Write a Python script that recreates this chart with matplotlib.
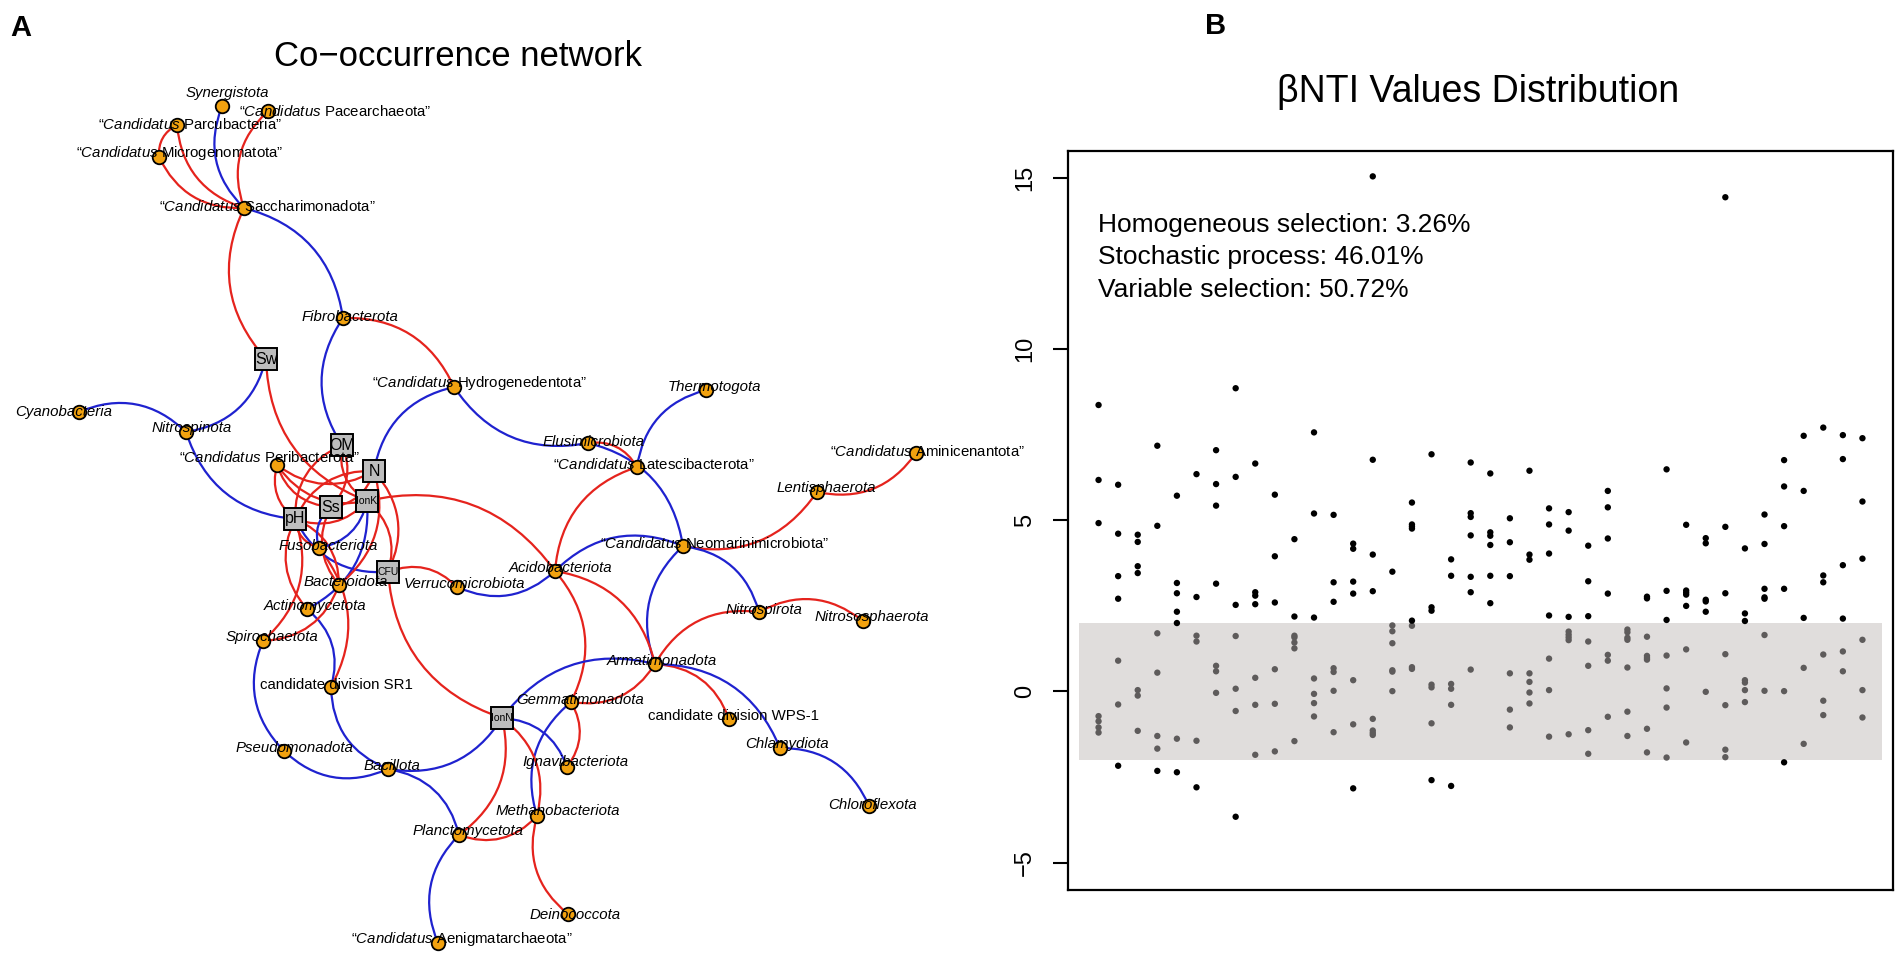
import numpy as np
import matplotlib
matplotlib.use("Agg")
import matplotlib.pyplot as plt
from matplotlib.path import Path
from matplotlib.patches import PathPatch, Rectangle

plt.rcParams['font.family'] = ['Liberation Sans', 'DejaVu Sans']
plt.rcParams['mathtext.fontset'] = 'custom'
plt.rcParams['mathtext.rm'] = 'Liberation Sans'
plt.rcParams['mathtext.it'] = 'Liberation Sans:italic'

# ---- network: taxa (layout positions, in pixels) ----
taxa = ["Synergistota", "Pacearchaeota", "Parcubacteria", "Microgenomatota",
        "Saccharimonadota", "Fibrobacterota", "Hydrogenedentota", "Cyanobacteria",
        "Nitrospinota", "Peribacterota", "Elusimicrobiota", "Thermotogota",
        "Latescibacterota", "Aminicenantota", "Lentisphaerota", "Fusobacteriota",
        "Neomarinimicrobiota", "Acidobacteriota", "Bacteroidota", "Verrucomicrobiota",
        "Actinomycetota", "Nitrospirota", "Nitrososphaerota", "Spirochaetota",
        "Armatimonadota", "SR1", "Gemmatimonadota", "WPS1", "Chlamydiota",
        "Pseudomonadota", "Bacillota", "Ignavibacteriota", "Chloroflexota",
        "Methanobacteriota", "Planctomycetota", "Deinococcota", "Aenigmatarchaeota"]
taxon_label = ["Synergistota", "Pacearchaeota", "Parcubacteria", "Microgenomatota",
               "Saccharimonadota", "Fibrobacterota", "Hydrogenedentota", "Cyanobacteria",
               "Nitrospinota", "Peribacterota", "Elusimicrobiota", "Thermotogota",
               "Latescibacterota", "Aminicenantota", "Lentisphaerota", "Fusobacteriota",
               "Neomarinimicrobiota", "Acidobacteriota", "Bacteroidota", "Verrucomicrobiota",
               "Actinomycetota", "Nitrospirota", "Nitrososphaerota", "Spirochaetota",
               "Armatimonadota", "candidate division SR1", "Gemmatimonadota",
               "candidate division WPS-1", "Chlamydiota", "Pseudomonadota", "Bacillota",
               "Ignavibacteriota", "Chloroflexota", "Methanobacteriota", "Planctomycetota",
               "Deinococcota", "Aenigmatarchaeota"]
# i = italic, c = "Candidatus" form, n = plain
taxon_style = ["i", "c", "c", "c", "c", "i", "c", "i", "i", "c", "i", "i", "c", "c",
               "i", "i", "c", "i", "i", "i", "i", "i", "i", "i", "i", "n", "i", "n",
               "i", "i", "i", "i", "i", "i", "i", "i", "c"]
taxon_x = [222, 268, 177, 159, 244, 343, 454, 79, 186, 277, 588, 706, 637, 916, 817,
           319, 683, 555, 339, 457, 307, 759, 863, 263, 655, 331, 571, 729, 780, 284,
           388, 567, 869, 537, 459, 568, 438]
taxon_y = [106, 111, 125, 157, 208, 318, 387, 412, 432, 465, 443, 390, 467, 453, 492,
           548, 546, 571, 585, 587, 609, 612, 621, 641, 664, 687, 702, 719, 748, 751,
           769, 767, 806, 816, 835, 914, 943]
label_x = [227, 335, 190, 180, 267, 350, 479, 64, 192, 269, 594, 714, 654, 927, 826,
           328, 715, 561, 346, 464, 315, 764, 872, 272, 662, 336, 580, 734, 787, 294,
           392, 575, 872, 558, 468, 575, 462]
label_y = [93, 111, 124, 153, 206, 317, 383, 412, 428, 457, 442, 387, 464, 451, 488,
           546, 544, 568, 582, 584, 606, 610, 617, 637, 661, 685, 700, 716, 744, 748,
           766, 762, 805, 811, 831, 915, 939]

# environmental factors
env = ["Sw", "OM", "N", "IonK", "Ss", "pH", "CFU", "IonN"]
env_x = [266, 342, 374, 367, 331, 295, 388, 502]
env_y = [359, 445, 471, 501, 507, 519, 572, 718]

# edges: (from, to, sign of correlation, bend side)
edges = [
    ("Parcubacteria", "Saccharimonadota", "pos", 1),
    ("Microgenomatota", "Saccharimonadota", "pos", 1),
    ("Parcubacteria", "Microgenomatota", "pos", 1),
    ("Synergistota", "Saccharimonadota", "neg", 1),
    ("Pacearchaeota", "Saccharimonadota", "pos", 1),
    ("Saccharimonadota", "Sw", "pos", 1),
    ("Saccharimonadota", "Fibrobacterota", "neg", -1),
    ("Fibrobacterota", "Hydrogenedentota", "pos", -1),
    ("Fibrobacterota", "OM", "neg", 1),
    ("Sw", "Nitrospinota", "neg", -1),
    ("Cyanobacteria", "Nitrospinota", "neg", -1),
    ("Nitrospinota", "pH", "neg", 1),
    ("Sw", "IonK", "pos", 1),
    ("Hydrogenedentota", "N", "neg", 1),
    ("Hydrogenedentota", "Elusimicrobiota", "neg", 1),
    ("Thermotogota", "Latescibacterota", "neg", 1),
    ("Elusimicrobiota", "Neomarinimicrobiota", "neg", -1),
    ("Elusimicrobiota", "Latescibacterota", "pos", -1),
    ("Latescibacterota", "Acidobacteriota", "pos", 1),
    ("Acidobacteriota", "Neomarinimicrobiota", "neg", -1),
    ("Verrucomicrobiota", "Acidobacteriota", "neg", 1),
    ("Neomarinimicrobiota", "Lentisphaerota", "pos", 1),
    ("Lentisphaerota", "Aminicenantota", "pos", 1),
    ("Neomarinimicrobiota", "Nitrospirota", "neg", -1),
    ("Neomarinimicrobiota", "Armatimonadota", "neg", 1),
    ("Nitrospirota", "Nitrososphaerota", "pos", -1),
    ("Nitrospirota", "Armatimonadota", "pos", 1),
    ("Acidobacteriota", "Armatimonadota", "pos", -1),
    ("Acidobacteriota", "Gemmatimonadota", "pos", -1),
    ("IonK", "Acidobacteriota", "pos", -1),
    ("CFU", "Verrucomicrobiota", "pos", -1),
    ("CFU", "IonN", "pos", 1),
    ("Armatimonadota", "IonN", "neg", 1),
    ("Armatimonadota", "Gemmatimonadota", "pos", -1),
    ("Armatimonadota", "WPS1", "pos", -1),
    ("Armatimonadota", "Chlamydiota", "neg", -1),
    ("Chlamydiota", "Chloroflexota", "neg", -1),
    ("Gemmatimonadota", "Ignavibacteriota", "pos", -1),
    ("Gemmatimonadota", "Methanobacteriota", "neg", 1),
    ("IonN", "Ignavibacteriota", "neg", -1),
    ("IonN", "Methanobacteriota", "pos", -1),
    ("IonN", "Planctomycetota", "pos", -1),
    ("IonN", "Bacillota", "neg", -1),
    ("Methanobacteriota", "Planctomycetota", "pos", -1),
    ("Methanobacteriota", "Deinococcota", "pos", 1),
    ("Planctomycetota", "Aenigmatarchaeota", "neg", 1),
    ("Bacillota", "Planctomycetota", "neg", -1),
    ("Bacillota", "Pseudomonadota", "neg", -1),
    ("Bacillota", "SR1", "neg", -1),
    ("Pseudomonadota", "Spirochaetota", "neg", -1),
    ("SR1", "Actinomycetota", "neg", 1),
    ("SR1", "Fusobacteriota", "pos", 1),
    ("Spirochaetota", "Bacteroidota", "pos", 1),
    ("pH", "Spirochaetota", "pos", -1),
    ("Actinomycetota", "IonK", "neg", 1),
    ("pH", "CFU", "neg", 1),
    ("Peribacterota", "Ss", "pos", 1),
    ("Peribacterota", "IonK", "pos", 1),
    ("Peribacterota", "N", "pos", 1),
    ("OM", "pH", "pos", 1),
    ("OM", "Ss", "pos", -1),
    ("OM", "IonK", "pos", 1),
    ("N", "pH", "pos", 1),
    ("N", "Ss", "pos", -1),
    ("N", "CFU", "pos", -1),
    ("IonK", "pH", "pos", -1),
    ("pH", "Fusobacteriota", "pos", 1),
    ("pH", "Bacteroidota", "pos", -1),
    ("Ss", "Bacteroidota", "pos", 1),
    ("N", "Bacteroidota", "pos", -1),
    ("IonK", "CFU", "pos", -1),
    ("pH", "Actinomycetota", "pos", 1),
    ("Ss", "Fusobacteriota", "neg", 1),
    ("IonK", "Fusobacteriota", "neg", -1),
    ("Peribacterota", "pH", "pos", 1),
]

# ---- beta NTI values, one list per sample (x = 1..40) ----
bnti = [
    [8.37, 6.18, 4.92, -0.72, -0.87, -1.05, -1.20],
    [6.04, 4.61, 3.37, 2.71, 0.90, -0.38, -2.17],
    [4.58, 4.37, 3.66, 3.46, 0.04, -0.12, -1.15],
    [7.18, 4.84, 1.70, 0.55, -1.30, -1.67, -2.32],
    [5.72, 3.17, 2.87, 2.33, 2.00, -1.38, -2.36],
    [6.35, 2.76, 1.63, 1.46, -1.44, -2.80],
    [7.05, 6.06, 5.43, 3.15, 0.75, 0.59, -0.04],
    [8.86, 6.27, 2.53, 1.62, 0.08, -0.57, -3.66],
    [6.66, 2.90, 2.80, 2.55, 0.40, -0.39, -1.85],
    [5.75, 3.95, 2.60, 0.65, -0.36, -1.75],
    [4.45, 2.19, 1.63, 1.58, 1.43, 1.26, -1.45],
    [7.57, 5.20, 2.16, 0.38, -0.07, -0.34, -0.73],
    [5.16, 3.19, 2.62, 0.68, 0.57, 0.02, -1.19],
    [4.32, 4.17, 3.21, 2.86, 0.33, -0.96, -2.83],
    [15.05, 6.77, 4.00, 2.93, -0.80, -1.14, -1.21, -1.27],
    [3.50, 1.93, 1.76, 1.41, 0.62, 0.58, 0.01],
    [5.52, 4.88, 4.82, 4.76, 2.07, 1.92, 0.71, 0.66],
    [6.93, 2.46, 2.36, 0.20, 0.12, -0.93, -2.59],
    [3.86, 3.38, 0.22, 0.08, -0.39, -2.76],
    [6.69, 5.21, 5.10, 4.56, 3.35, 2.90, 0.64],
    [6.37, 4.65, 4.55, 4.28, 3.38, 2.58],
    [5.06, 4.36, 3.37, 0.53, -0.53, -1.05],
    [6.45, 4.00, 3.85, 0.53, 0.28, -0.03, -0.35],
    [5.35, 4.88, 4.03, 2.22, 0.96, 0.04, -1.32],
    [5.24, 4.70, 2.18, 1.75, 1.66, 1.58, 1.50, -1.25],
    [4.26, 3.22, 2.20, 1.46, 0.75, -1.13, -1.82],
    [5.86, 5.38, 4.47, 2.86, 1.07, 0.90, -0.74],
    [1.81, 1.73, 1.57, 1.51, 0.70, -0.59, -1.30],
    [2.77, 2.72, 1.60, 1.04, 0.98, 0.93, -1.09, -1.78],
    [6.49, 2.94, 2.09, 1.05, 0.09, -0.47, -1.93],
    [4.87, 2.95, 2.89, 2.83, 2.50, 1.23, -1.49],
    [4.48, 4.33, 2.68, 2.63, 2.33, -0.01],
    [14.44, 4.81, 2.87, 1.09, -0.40, -1.70, -1.92],
    [4.18, 2.28, 2.06, 0.33, 0.26, 0.04, -0.31],
    [5.17, 4.31, 3.00, 2.75, 2.71, 1.65, 0.02],
    [6.76, 5.99, 4.83, 3.00, 0.01, -2.07],
    [7.47, 5.86, 2.15, 0.69, -1.53],
    [7.71, 3.39, 3.19, 1.08, -0.27, -0.69],
    [7.49, 6.79, 3.69, 2.13, 1.17, 0.59],
    [7.40, 5.55, 3.88, 1.51, 0.04, -0.76],
]
summary_lines = ["Homogeneous selection: 3.26%",
                 "Stochastic process: 46.01%",
                 "Variable selection: 50.72%"]

W, H = 1901, 956
fig = plt.figure(figsize=(W / 100, H / 100), dpi=100)

# ---------------- panel A ----------------
ax = fig.add_axes([0, 0, 1, 1])
ax.set_xlim(0, W)
ax.set_ylim(H, 0)
ax.axis('off')

pos = {}
for k, x, y in zip(taxa, taxon_x, taxon_y):
    pos[k] = (x, y)
for k, x, y in zip(env, env_x, env_y):
    pos[k] = (x, y)

edge_col = {"pos": "#e5231d", "neg": "#1f22cf"}
for a, b, sgn, side in edges:
    x0, y0 = pos[a]
    x1, y1 = pos[b]
    dx, dy = x1 - x0, y1 - y0
    L = np.hypot(dx, dy)
    px, py = -dy / L, dx / L
    cx = (x0 + x1) / 2 + side * 0.33 * L * px
    cy = (y0 + y1) / 2 + side * 0.33 * L * py
    path = Path([(x0, y0), (cx, cy), (x1, y1)],
                [Path.MOVETO, Path.CURVE3, Path.CURVE3])
    ax.add_patch(PathPatch(path, fc='none', ec=edge_col[sgn], lw=1.6, zorder=1))

ax.scatter(taxon_x, taxon_y, s=95, c='#f2a20f', edgecolors='black',
           linewidths=1.3, zorder=3)

box = 22
for k, x, y in zip(env, env_x, env_y):
    ax.add_patch(Rectangle((x - box / 2, y - box / 2), box, box, fc='#bdbdbd',
                           ec='black', lw=1.4, zorder=3))
    fs = 7.5 if len(k) > 2 else 11.5
    ax.text(x, y, k, ha='center', va='center', fontsize=fs, zorder=4)

for lab, sty, x, y in zip(taxon_label, taxon_style, label_x, label_y):
    if sty == "c":
        txt = "\u201c$\\mathit{Candidatus}$ " + lab + "\u201d"
        ax.text(x, y, txt, ha='center', va='center', fontsize=10.8, zorder=5)
    elif sty == "i":
        ax.text(x, y, lab, ha='center', va='center', fontsize=10.8,
                style='italic', zorder=5)
    else:
        ax.text(x, y, lab, ha='center', va='center', fontsize=10.8, zorder=5)

ax.text(458, 56, "Co\u2212occurrence network", ha='center', va='center', fontsize=25)
ax.text(21, 28, "A", ha='center', va='center', fontsize=21, fontweight='bold')
ax.text(1216, 26, "B", ha='center', va='center', fontsize=21, fontweight='bold')
ax.text(1478, 92, "\u03b2NTI Values Distribution", ha='center', va='center', fontsize=27)

# ---------------- panel B ----------------
bx = fig.add_axes([1068 / W, (H - 890) / H, 825 / W, 739.3 / H])
bx.add_patch(Rectangle((0, -2), 41, 4, fc='#e0dddc', ec='none', zorder=0))
xs, ys = [], []
for i, vals in enumerate(bnti):
    for v in vals:
        xs.append(i + 1)
        ys.append(v)
xs = np.array(xs)
ys = np.array(ys)
inside = np.abs(ys) < 2
bx.scatter(xs[inside], ys[inside], s=21, c='#5e5b5b', edgecolors='none', zorder=2)
bx.scatter(xs[~inside], ys[~inside], s=21, c='black', edgecolors='none', zorder=2)
bx.set_xlim(-0.56, 41.56)
bx.set_ylim(-5.8, 15.8)
bx.set_xticks([])
bx.set_yticks([-5, 0, 5, 10, 15])
bx.tick_params(axis='y', length=11, width=1.5, pad=12, labelsize=17)
for lbl in bx.get_yticklabels():
    lbl.set_rotation(90)
    lbl.set_va('center')
for sp in bx.spines.values():
    sp.set_linewidth(1.6)
for j, line in enumerate(summary_lines):
    bx.text(0.036, 0.9 - j * 0.0443, line, transform=bx.transAxes,
            ha='left', va='center', fontsize=19)

fig.savefig("out.png", dpi=100)
